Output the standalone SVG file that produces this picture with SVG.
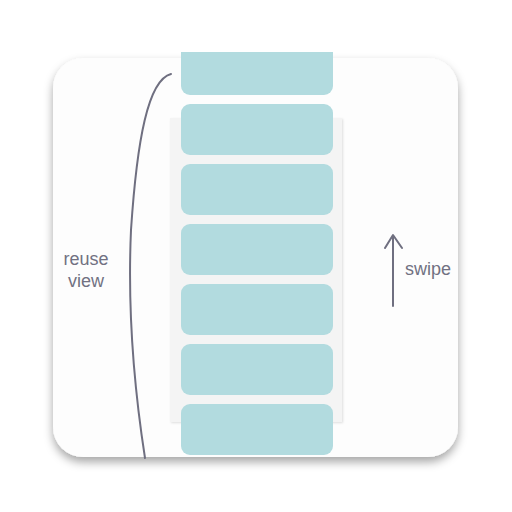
<svg xmlns="http://www.w3.org/2000/svg" width="512" height="512" viewBox="0 0 512 512">
<defs>
<filter id="sh" x="-10%" y="-10%" width="120%" height="130%">
<feDropShadow dx="0" dy="5" stdDeviation="5" flood-color="#000" flood-opacity="0.35"/>
</filter>
<filter id="sh2" x="-10%" y="-10%" width="120%" height="120%">
<feDropShadow dx="1" dy="1" stdDeviation="1" flood-color="#000" flood-opacity="0.12"/>
</filter>
<clipPath id="top"><rect x="0" y="52" width="512" height="460"/></clipPath>
</defs>
<style>
.tile{fill:#b2dbdf}
.ln{fill:none;stroke:#6f6f80;stroke-width:2;stroke-linecap:round;stroke-linejoin:round}
.lbl{font-family:"Liberation Sans",Arial,sans-serif;font-size:18px;fill:#717182}
</style>
<g id="card"><rect x="53" y="58" width="405" height="399" rx="30" fill="#fdfdfd" filter="url(#sh)"/></g>
<g id="panel"><rect x="170" y="118" width="172" height="304" fill="#f4f4f4" filter="url(#sh2)"/></g>
<g id="tiles" clip-path="url(#top)">
<rect class="tile" x="181" y="40" width="152" height="55" rx="9"/>
<rect class="tile" x="181" y="104" width="152" height="51" rx="9"/>
<rect class="tile" x="181" y="164" width="152" height="51" rx="9"/>
<rect class="tile" x="181" y="224" width="152" height="51" rx="9"/>
<rect class="tile" x="181" y="284" width="152" height="51" rx="9"/>
<rect class="tile" x="181" y="344" width="152" height="51" rx="9"/>
<rect class="tile" x="181" y="404" width="152" height="51" rx="9"/>
</g>
<g id="connectors">
<path class="ln" d="M171,74 C148,80 137,140 131,230 C127,320 136,400 145,458"/>
<path class="ln" d="M393,306 L393,236 M385,248 L393,235 L402,248"/>
</g>
<g id="label-reuse"><text class="lbl" x="86" y="265" text-anchor="middle">reuse</text><text class="lbl" x="86" y="287" text-anchor="middle">view</text></g>
<g id="label-swipe"><text class="lbl" x="405" y="275">swipe</text></g>
</svg>
